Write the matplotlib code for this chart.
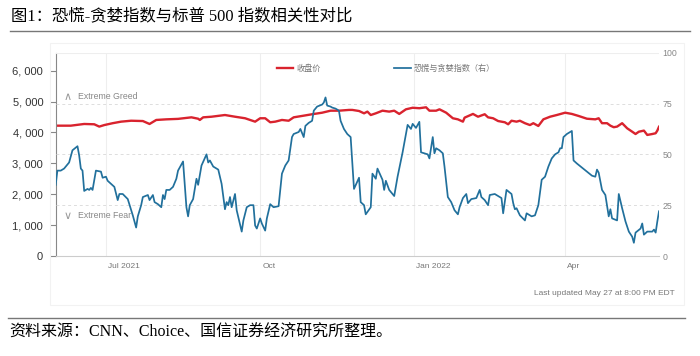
import numpy as np
import matplotlib
matplotlib.use("Agg")
import matplotlib.pyplot as plt
from matplotlib.ticker import FuncFormatter
from matplotlib.lines import Line2D
from matplotlib.patches import Rectangle
import matplotlib.transforms as mtrans

plt.rcParams['font.family'] = ['Liberation Sans', 'Noto Sans CJK SC', 'DejaVu Sans']

# 恐慌与贪婪指数（右轴，0-100）
fg_dates = ['2021-06-01', '2021-06-02', '2021-06-04', '2021-06-06', '2021-06-07', '2021-06-09',
            '2021-06-11', '2021-06-14', '2021-06-15', '2021-06-16', '2021-06-17', '2021-06-18',
            '2021-06-20', '2021-06-21', '2021-06-22', '2021-06-23', '2021-06-25', '2021-06-28',
            '2021-06-29', '2021-07-01', '2021-07-02', '2021-07-06', '2021-07-08', '2021-07-09',
            '2021-07-11', '2021-07-14', '2021-07-17', '2021-07-19', '2021-07-20', '2021-07-22',
            '2021-07-23', '2021-07-26', '2021-07-27', '2021-07-29', '2021-07-30', '2021-08-01',
            '2021-08-03', '2021-08-04', '2021-08-05', '2021-08-06', '2021-08-08', '2021-08-10',
            '2021-08-12', '2021-08-13', '2021-08-16', '2021-08-18', '2021-08-19', '2021-08-20',
            '2021-08-22', '2021-08-24', '2021-08-25', '2021-08-27', '2021-08-30', '2021-08-31',
            '2021-09-01', '2021-09-03', '2021-09-06', '2021-09-08', '2021-09-10', '2021-09-11',
            '2021-09-12', '2021-09-13', '2021-09-14', '2021-09-16', '2021-09-17', '2021-09-20',
            '2021-09-21', '2021-09-23', '2021-09-25', '2021-09-27', '2021-09-28', '2021-09-29',
            '2021-10-01', '2021-10-02', '2021-10-04', '2021-10-05', '2021-10-07', '2021-10-09',
            '2021-10-12', '2021-10-14', '2021-10-16', '2021-10-18', '2021-10-20', '2021-10-21',
            '2021-10-24', '2021-10-25', '2021-10-27', '2021-10-28', '2021-10-30', '2021-11-01',
            '2021-11-02', '2021-11-04', '2021-11-07', '2021-11-08', '2021-11-09', '2021-11-10',
            '2021-11-12', '2021-11-13', '2021-11-15', '2021-11-17', '2021-11-18', '2021-11-20',
            '2021-11-22', '2021-11-24', '2021-11-25', '2021-11-26', '2021-11-29', '2021-11-30',
            '2021-12-02', '2021-12-03', '2021-12-06', '2021-12-07', '2021-12-09', '2021-12-10',
            '2021-12-13', '2021-12-14', '2021-12-15', '2021-12-17', '2021-12-20', '2021-12-22',
            '2021-12-25', '2021-12-27', '2021-12-28', '2021-12-30', '2021-12-31', '2022-01-02',
            '2022-01-04', '2022-01-05', '2022-01-07', '2022-01-09', '2022-01-10', '2022-01-12',
            '2022-01-13', '2022-01-14', '2022-01-16', '2022-01-18', '2022-01-19', '2022-01-21',
            '2022-01-23', '2022-01-25', '2022-01-27', '2022-01-28', '2022-01-30', '2022-02-01',
            '2022-02-02', '2022-02-04', '2022-02-07', '2022-02-09', '2022-02-10', '2022-02-12',
            '2022-02-14', '2022-02-15', '2022-02-18', '2022-02-21', '2022-02-22', '2022-02-23',
            '2022-02-25', '2022-02-28', '2022-03-01', '2022-03-02', '2022-03-03', '2022-03-05',
            '2022-03-08', '2022-03-09', '2022-03-12', '2022-03-14', '2022-03-16', '2022-03-18',
            '2022-03-20', '2022-03-22', '2022-03-24', '2022-03-26', '2022-03-28', '2022-03-29',
            '2022-03-30', '2022-03-31', '2022-04-02', '2022-04-05', '2022-04-06', '2022-04-08',
            '2022-04-11', '2022-04-14', '2022-04-17', '2022-04-19', '2022-04-20', '2022-04-21',
            '2022-04-23', '2022-04-25', '2022-04-27', '2022-04-28', '2022-04-29', '2022-05-02',
            '2022-05-03', '2022-05-05', '2022-05-07', '2022-05-09', '2022-05-11', '2022-05-12',
            '2022-05-13', '2022-05-16', '2022-05-17', '2022-05-18', '2022-05-20', '2022-05-23',
            '2022-05-24', '2022-05-25', '2022-05-26', '2022-05-27']
fg_vals = [35, 42, 42, 43, 44, 46,
           52, 54, 49.5, 43, 42, 32,
           33, 32.5, 33.5, 32.5, 42, 41.5,
           38.5, 39, 37, 34, 27.5, 30.5,
           30.5, 28, 20, 14, 19.5, 25,
           29, 30, 27.5, 30, 26.5, 25.5,
           24, 30, 28, 32.5, 32.5, 34,
           38, 42, 46.5, 24, 19.5, 25,
           28, 38, 35, 44.5, 50, 46,
           47, 44, 42.5, 35.5, 23, 26.5,
           25, 29, 24, 30.5, 22.5, 12,
           17.5, 24, 25, 25, 15, 13.5,
           18.5, 16, 12.5, 18.5, 25.5, 24,
           24.5, 40.5, 44.5, 47, 58.5, 60,
           61, 62.5, 58.5, 64, 65.5, 66.5,
           71.5, 73.5, 74.5, 75.5, 78, 74,
           73.5, 73, 72.5, 71.5, 66.5, 62.5,
           60, 58.5, 46, 33, 38.5, 26.5,
           25, 20.5, 24, 40.5, 38, 43,
           37.5, 32.5, 37, 32.5, 29.5, 39,
           51, 60, 64.5, 62.5, 65, 63,
           66, 51, 50.5, 50, 48, 58.5,
           50.5, 53, 52, 50.5, 44, 29,
           26.5, 22.5, 20.5, 24, 28.5, 30.5,
           26, 28, 28.5, 32.5, 29, 27.5,
           25, 30, 30.5, 29, 28.5, 21,
           32.5, 30.5, 26, 23, 23.5, 20,
           17.5, 21, 19.5, 20, 25, 37.5,
           39, 44, 48, 50, 51, 53,
           53, 58.5, 60, 61.5, 47, 45.5,
           43.5, 41.5, 39.5, 39, 42.5, 41,
           32.5, 30, 19.5, 23, 18.5, 17.5,
           30.5, 23.5, 17, 12, 9.5, 6.5,
           11.5, 13.5, 16, 10.5, 12, 12,
           13, 11.5, 17, 22]

# 标普500 收盘价（左轴）
spx_dates = ['2021-06-02', '2021-06-10', '2021-06-18', '2021-06-24', '2021-06-27', '2021-06-30',
             '2021-07-05', '2021-07-10', '2021-07-16', '2021-07-23', '2021-07-27', '2021-07-31',
             '2021-08-06', '2021-08-13', '2021-08-21', '2021-08-25', '2021-08-26', '2021-08-28',
             '2021-09-02', '2021-09-10', '2021-09-16', '2021-09-22', '2021-09-28', '2021-10-01',
             '2021-10-04', '2021-10-07', '2021-10-10', '2021-10-14', '2021-10-18', '2021-10-21',
             '2021-10-26', '2021-11-01', '2021-11-07', '2021-11-12', '2021-11-17', '2021-11-23',
             '2021-11-25', '2021-11-29', '2021-12-02', '2021-12-04', '2021-12-06', '2021-12-09',
             '2021-12-13', '2021-12-17', '2021-12-20', '2021-12-23', '2021-12-27', '2021-12-31',
             '2022-01-04', '2022-01-08', '2022-01-10', '2022-01-14', '2022-01-16', '2022-01-20',
             '2022-01-24', '2022-01-27', '2022-01-30', '2022-01-31', '2022-02-05', '2022-02-08',
             '2022-02-12', '2022-02-14', '2022-02-17', '2022-02-20', '2022-02-24', '2022-02-26',
             '2022-02-28', '2022-03-03', '2022-03-05', '2022-03-08', '2022-03-11', '2022-03-13',
             '2022-03-16', '2022-03-19', '2022-03-23', '2022-03-27', '2022-04-01', '2022-04-05',
             '2022-04-09', '2022-04-14', '2022-04-19', '2022-04-21', '2022-04-23', '2022-04-26',
             '2022-04-28', '2022-04-30', '2022-05-02', '2022-05-05', '2022-05-08', '2022-05-11',
             '2022-05-13', '2022-05-15', '2022-05-18', '2022-05-20', '2022-05-23', '2022-05-25',
             '2022-05-26', '2022-05-27']
spx_vals = [4220, 4220, 4275, 4265, 4190, 4240,
            4300, 4350, 4380, 4370, 4275, 4405,
            4425, 4440, 4490, 4445, 4405, 4490,
            4510, 4565, 4510, 4460, 4350, 4460,
            4460, 4330, 4350, 4405, 4380, 4490,
            4535, 4590, 4640, 4705, 4705, 4730,
            4730, 4695, 4620, 4675, 4565, 4620,
            4705, 4675, 4705, 4600, 4750, 4800,
            4785, 4815, 4705, 4705, 4750, 4640,
            4460, 4425, 4350, 4480, 4600, 4510,
            4590, 4490, 4460, 4370, 4330, 4265,
            4380, 4350, 4380, 4300, 4240, 4300,
            4210, 4425, 4510, 4565, 4640, 4600,
            4535, 4445, 4425, 4460, 4300, 4300,
            4220, 4170, 4190, 4300, 4135, 4025,
            3950, 4025, 4060, 3920, 3950, 3975,
            4060, 4185]

xtick_dates = ['2021-07-01', '2021-10-01', '2022-01-01', '2022-04-01']
xtick_labels = ['Jul 2021', 'Oct', 'Jan 2022', 'Apr']
left_ticks = [0, 1000, 2000, 3000, 4000, 5000, 6000]
right_ticks = [0, 25, 50, 75, 100]

red = '#d9232e'
blue = '#21709c'

fig = plt.figure(figsize=(7, 3.56), dpi=100)
W, H = 700.0, 356.0
ax = fig.add_axes([55.7 / W, 1 - 256 / H, (659 - 55.7) / W, (256 - 52.7) / H])
ax2 = ax.twinx()

# faint frame of the original screenshot
fig.add_artist(Rectangle((50 / W, 1 - 305 / H), (684 - 50) / W, (305 - 43) / H,
                         transform=fig.transFigure, fill=False, ec='#f2f2f2', lw=0.8))

# grid
for v in right_ticks[1:-1]:
    ax2.axhline(v, color='#dddddd', lw=0.7, ls=(0, (3, 3)), zorder=0)
ax2.axhline(100, color='#eeeeee', lw=0.8, zorder=0)
ax2.axhline(0, color='#cccccc', lw=0.8, zorder=0, clip_on=False)
for d in xtick_dates:
    ax.axvline(np.datetime64(d), color='#eeeeee', lw=0.8, zorder=0)

ax.plot(np.array(spx_dates, dtype='datetime64[D]'), spx_vals, color=red, lw=1.7)
ax2.plot(np.array(fg_dates, dtype='datetime64[D]'), fg_vals, color=blue, lw=1.25)

ax.set_xlim(np.datetime64('2021-06-01'), np.datetime64('2022-05-27'))
ax.set_ylim(0, 6000 * (256 - 52.7) / (256 - 70.7))
ax2.set_ylim(0, 100)

for s in ['top', 'right', 'bottom']:
    ax.spines[s].set_visible(False)
for s in ax2.spines:
    ax2.spines[s].set_visible(False)
ax.spines['left'].set_color('#888888')
ax.spines['left'].set_linewidth(0.8)

ax.set_yticks(left_ticks)
ax.yaxis.set_major_formatter(FuncFormatter(lambda v, p: f"{int(v):,}".replace(",", ", ")))
ax.tick_params(axis='y', length=4, width=0.8, color='#888888', labelsize=8,
               labelcolor='#333333', pad=5)
ax2.set_yticks(right_ticks)
ax2.tick_params(axis='y', length=0, labelsize=6.3, labelcolor='#888888', pad=2.5)

ax.set_xticks([np.datetime64(d) for d in xtick_dates])
ax.set_xticklabels(xtick_labels)
ax.tick_params(axis='x', length=0, labelsize=6, labelcolor='#777777', pad=5)
off = mtrans.ScaledTranslation(2 / 100, 0, fig.dpi_scale_trans)
for lab in ax.get_xticklabels():
    lab.set_horizontalalignment('left')
    lab.set_transform(lab.get_transform() + off)

# extreme zones
ax.text(0.037, 0.784, 'Extreme Greed', transform=ax.transAxes, fontsize=6.3,
        color='#888888', va='center')
ax.text(0.037, 0.198, 'Extreme Fear', transform=ax.transAxes, fontsize=6.3,
        color='#888888', va='center')
ax.text(0.02, 0.784, '∧', transform=ax.transAxes, fontsize=8, color='#999999',
        va='center', ha='center', family='DejaVu Sans')
ax.text(0.02, 0.198, '∨', transform=ax.transAxes, fontsize=8, color='#999999',
        va='center', ha='center', family='DejaVu Sans')

handles = [Line2D([], [], color=red, lw=1.7), Line2D([], [], color=blue, lw=1.25)]
ax2.legend(handles, ['收盘价', '恐慌与贪婪指数（右）'], loc='center',
           bbox_to_anchor=((386 - 55.7) / 603.3, (256 - 68.3) / 203.3), ncol=2,
           frameon=False, fontsize=5.9, handlelength=2.0, handletextpad=0.35,
           columnspacing=9.0, labelcolor='#777777')

serif_cjk = ['Liberation Serif', 'Noto Sans CJK SC']
fig.text(11 / W, 1 - 16.5 / H, '图1：恐慌-贪婪指数与标普 500 指数相关性对比',
         fontsize=11.8, family=serif_cjk, va='center', color='#000000')
fig.add_artist(Line2D([10 / W, 690 / W], [1 - 31 / H] * 2, color='#777777', lw=1))
fig.text(675 / W, 1 - 293.3 / H, 'Last updated May 27 at 8:00 PM EDT', ha='right',
         va='center', fontsize=6, color='#777777')
fig.add_artist(Line2D([8 / W, 685 / W], [1 - 318.3 / H] * 2, color='#777777', lw=1))
fig.text(9 / W, 1 - 333 / H, '资料来源：CNN、Choice、国信证券经济研究所整理。',
         fontsize=11.5, family=serif_cjk, va='center', color='#000000')

fig.savefig('out.png', dpi=100)
